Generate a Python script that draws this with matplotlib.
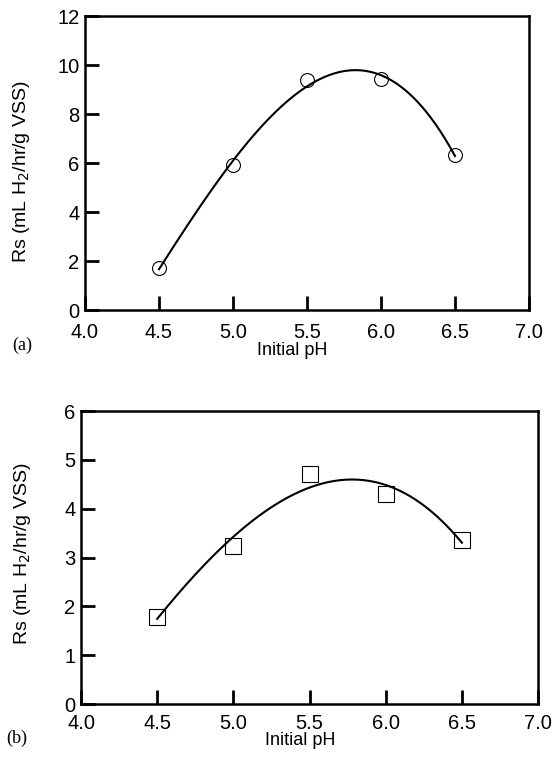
import numpy as np
import matplotlib
matplotlib.use("Agg")
import matplotlib.pyplot as plt

plt.rcParams['font.family'] = ['Liberation Sans', 'DejaVu Sans']

# Initial pH and specific hydrogen production rate
ph = [4.5, 5.0, 5.5, 6.0, 6.5]
rs_a = [1.71, 5.92, 9.39, 9.41, 6.33]
rs_b = [1.79, 3.24, 4.71, 4.30, 3.35]

xticks = [4.0, 4.5, 5.0, 5.5, 6.0, 6.5, 7.0]
yticks_a = [0, 2, 4, 6, 8, 10, 12]
yticks_b = [0, 1, 2, 3, 4, 5, 6]

fig = plt.figure(figsize=(5.53, 7.71), dpi=100)
ax_a = fig.add_axes([0.1537, 0.5979, 0.8029, 0.3813])
ax_b = fig.add_axes([0.1465, 0.0869, 0.8264, 0.3800])


def draw(ax, y, yticks, marker, msize, panel, panel_xy, xlab_xy, ylab_xy, xpad):
    # third-order polynomial trend through the measured rates
    coef = np.polyfit(ph, y, 3)
    xs = np.linspace(min(ph), max(ph), 200)
    ax.plot(xs, np.polyval(coef, xs), color='black', lw=1.5, zorder=2)
    ax.plot(ph, y, linestyle='none', marker=marker, markersize=msize,
            markerfacecolor='none', markeredgecolor='black', markeredgewidth=0.8, zorder=3)
    ax.set_xlim(4.0, 7.0)
    ax.set_ylim(yticks[0], yticks[-1])
    ax.set_xticks(xticks)
    ax.set_xticklabels([f"{t:.1f}" for t in xticks])
    ax.set_yticks(yticks)
    ax.set_yticklabels([str(t) for t in yticks])
    ax.tick_params(direction='in', length=10, width=2, labelsize=14.5,
                   top=False, right=False)
    ax.tick_params(axis='x', pad=xpad)
    ax.tick_params(axis='y', pad=4)
    for s in ax.spines.values():
        s.set_linewidth(1.8)
    ax.set_xlabel('Initial pH', fontsize=13, va='center')
    ax.xaxis.set_label_coords(*xlab_xy)
    ax.set_ylabel(r'Rs (mL H$_2$/hr/g VSS)', fontsize=14, va='center')
    ax.yaxis.set_label_coords(*ylab_xy)
    fig.text(panel_xy[0], panel_xy[1], panel, fontsize=13, family='Liberation Serif',
             ha='left', va='center')


draw(ax_a, rs_a, yticks_a, 'o', 10, '(a)', (0.022, 1 - 345 / 771),
     (0.466, -0.136), (-0.142, 0.469), 9)
draw(ax_b, rs_b, yticks_b, 's', 11, '(b)', (0.012, 1 - 738 / 771),
     (0.479, -0.123), (-0.129, 0.512), 7.5)

fig.savefig('out.png', dpi=100)
